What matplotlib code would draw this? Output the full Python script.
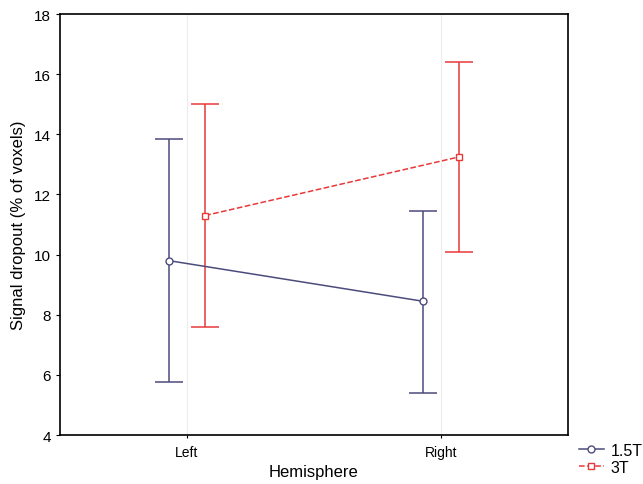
import numpy as np
import matplotlib
matplotlib.use("Agg")
import matplotlib.pyplot as plt
from matplotlib.lines import Line2D

plt.rcParams['font.family'] = ['Liberation Sans', 'DejaVu Sans']

hemispheres = ["Left", "Right"]
mean_15t = [9.8, 8.45]
upper_15t = [13.85, 11.45]
lower_15t = [5.75, 5.4]
mean_3t = [11.3, 13.25]
upper_3t = [15.0, 16.4]
lower_3t = [7.6, 10.1]

c15 = "#4b4c7c"
c3 = "#e8383a"

fig = plt.figure(figsize=(6.43, 4.85), dpi=100)
ax = fig.add_axes([0.0933, 0.101, 0.79, 0.868])

x = np.arange(len(hemispheres))
off = 0.072

m15 = np.array(mean_15t)
err15 = [m15 - np.array(lower_15t), np.array(upper_15t) - m15]
m3 = np.array(mean_3t)
err3 = [m3 - np.array(lower_3t), np.array(upper_3t) - m3]

ax.errorbar(x - off, m15, yerr=err15, color=c15, lw=1.1, marker='o', ms=5,
            mfc='white', mec=c15, capsize=10, capthick=1.1, zorder=3)
ax.errorbar(x + off, m3, yerr=err3, color=c3, lw=1.1, ls='--', marker='s', ms=5,
            mfc='white', mec=c3, capsize=10, capthick=1.1, zorder=3)

ax.set_xlim(-0.5, 1.5)
ax.set_ylim(4, 18)
ax.set_yticks(np.arange(4, 19, 2))
ax.set_xticks(x)
ax.set_xticklabels(hemispheres)
for xi in x:
    ax.axvline(xi, color="#ececec", lw=0.8, zorder=0)
ax.tick_params(axis='y', labelsize=11, direction='out', length=3)
ax.tick_params(axis='x', labelsize=10, length=2, pad=5)
for s in ax.spines.values():
    s.set_linewidth(1.2)

ax.set_ylabel("Signal dropout (% of voxels)", fontsize=12, labelpad=6)
ax.set_xlabel("Hemisphere", fontsize=12, labelpad=4)

handles = [
    Line2D([], [], color=c15, lw=1.1, marker='o', ms=5, mfc='white', mec=c15),
    Line2D([], [], color=c3, lw=1.1, ls='--', marker='s', ms=5, mfc='white', mec=c3),
]
fig.legend(handles, ["1.5T", "3T"], loc='upper left', bbox_to_anchor=(0.885, 0.105),
           frameon=False, fontsize=11.5, handlelength=1.6, handletextpad=0.4,
           labelspacing=0.15, borderpad=0.1)

fig.savefig("out.png", dpi=100)
